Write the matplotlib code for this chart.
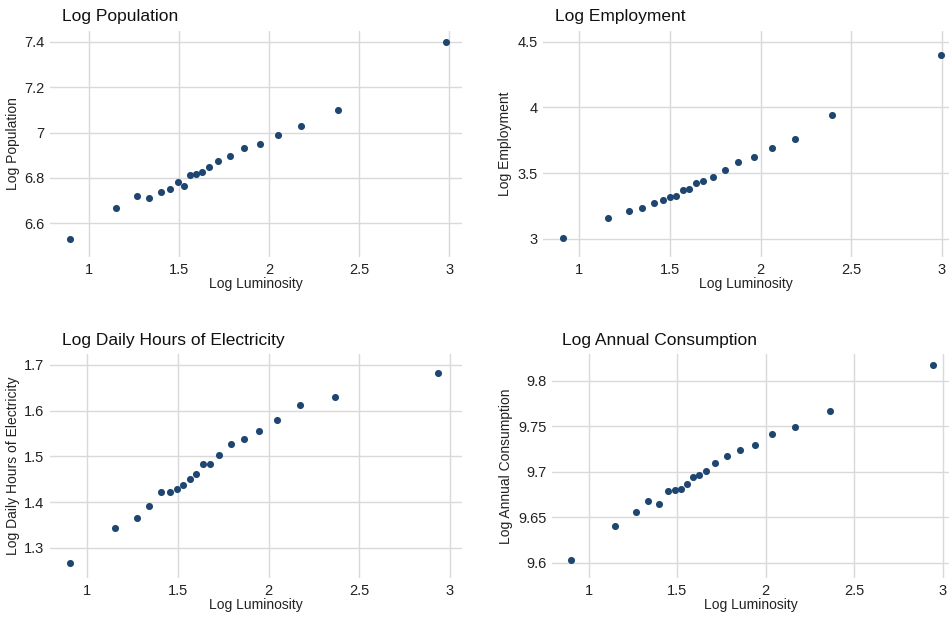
import matplotlib
matplotlib.use("Agg")
import matplotlib.pyplot as plt

plt.rcParams['font.family'] = ['Liberation Sans', 'DejaVu Sans']

# Data
pop_x = [0.896, 1.148, 1.265, 1.335, 1.400, 1.452, 1.493, 1.526, 1.559, 1.593,
         1.628, 1.669, 1.719, 1.785, 1.863, 1.950, 2.050, 2.180, 2.381, 2.983]
pop_y = [6.530, 6.666, 6.722, 6.713, 6.739, 6.753, 6.781, 6.766, 6.814, 6.816,
         6.826, 6.850, 6.875, 6.897, 6.933, 6.951, 6.990, 7.030, 7.101, 7.400]

emp_x = [0.908, 1.156, 1.272, 1.344, 1.410, 1.460, 1.502, 1.535, 1.570, 1.605,
         1.642, 1.682, 1.735, 1.801, 1.877, 1.961, 2.063, 2.191, 2.392, 2.994]
emp_y = [3.010, 3.157, 3.215, 3.236, 3.271, 3.294, 3.319, 3.329, 3.375, 3.380,
         3.423, 3.438, 3.474, 3.522, 3.583, 3.623, 3.694, 3.763, 3.940, 4.401]

elec_x = [0.908, 1.154, 1.274, 1.343, 1.408, 1.457, 1.498, 1.531, 1.566, 1.601,
          1.637, 1.678, 1.729, 1.793, 1.867, 1.949, 2.047, 2.172, 2.365, 2.932]
elec_y = [1.266, 1.344, 1.364, 1.392, 1.423, 1.422, 1.428, 1.437, 1.450, 1.462,
          1.483, 1.484, 1.504, 1.528, 1.537, 1.555, 1.580, 1.613, 1.629, 1.683]

cons_x = [0.898, 1.149, 1.266, 1.333, 1.397, 1.448, 1.488, 1.522, 1.556, 1.589,
          1.625, 1.663, 1.714, 1.782, 1.855, 1.940, 2.038, 2.164, 2.362, 2.945]
cons_y = [9.6026, 9.640, 9.6558, 9.6679, 9.665, 9.6785, 9.680, 9.6815, 9.6866, 9.6943,
          9.6961, 9.7009, 9.7101, 9.7174, 9.724, 9.7299, 9.742, 9.7494, 9.7673, 9.8176]

titles = ["Log Population", "Log Employment", "Log Daily Hours of Electricity", "Log Annual Consumption"]
ylabels = titles
xlabel = "Log Luminosity"

xticks = [1, 1.5, 2, 2.5, 3]
xticklabels = ["1", "1.5", "2", "2.5", "3"]
yticks_list = [[6.6, 6.8, 7.0, 7.2, 7.4], [3, 3.5, 4, 4.5],
               [1.3, 1.4, 1.5, 1.6, 1.7], [9.6, 9.65, 9.7, 9.75, 9.8]]
yticklabels_list = [["6.6", "6.8", "7", "7.2", "7.4"], ["3", "3.5", "4", "4.5"],
                    ["1.3", "1.4", "1.5", "1.6", "1.7"], ["9.6", "9.65", "9.7", "9.75", "9.8"]]

W, H = 949, 617
fig = plt.figure(figsize=(W / 100, H / 100), dpi=100)

# pixel boxes: left, right, top, bottom
boxes = [(50, 462, 31, 257), (543, 949, 31, 257), (50, 462, 354, 578), (552, 949, 354, 578)]
xlims = [(0.783, 3.072), (0.80, 3.039), (0.796, 3.066), (0.793, 3.036)]
ylims = [(6.452, 7.447), (2.863, 4.581), (1.2337, 1.724), (9.5832, 9.8297)]
title_px = [(62, 16), (555, 16), (62, 340), (562, 340)]
ylab_px = [13, 505, 13, 506]

datas = [(pop_x, pop_y), (emp_x, emp_y), (elec_x, elec_y), (cons_x, cons_y)]
color = "#1f4670"
grid_color = "#d9d9d9"

for i in range(4):
    l, r, t, b = boxes[i]
    ax = fig.add_axes([l / W, 1 - b / H, (r - l) / W, (b - t) / H])
    x, y = datas[i]
    ax.scatter(x, y, s=26, color=color, zorder=3, linewidths=0)
    ax.set_xlim(*xlims[i])
    ax.set_ylim(*ylims[i])
    ax.set_xticks(xticks)
    ax.set_xticklabels(xticklabels)
    ax.set_yticks(yticks_list[i])
    ax.set_yticklabels(yticklabels_list[i])
    ax.grid(True, color=grid_color, linewidth=1.0, zorder=0)
    ax.set_axisbelow(True)
    for s in ax.spines.values():
        s.set_visible(False)
    ax.tick_params(length=0, labelsize=10.5, colors="#222222", pad=4)
    ax.set_xlabel(xlabel, fontsize=10, color="#222222", labelpad=0)
    ax.set_ylabel("")
    tx, ty = title_px[i]
    fig.text(tx / W, 1 - ty / H, titles[i], fontsize=12.5, color="#111111",
             ha="left", va="center")
    fig.text(ylab_px[i] / W, 1 - ((t + b) / 2) / H, ylabels[i], fontsize=10,
             color="#222222", rotation=90, ha="center", va="center")

fig.savefig("out.png", dpi=100, facecolor="white")
